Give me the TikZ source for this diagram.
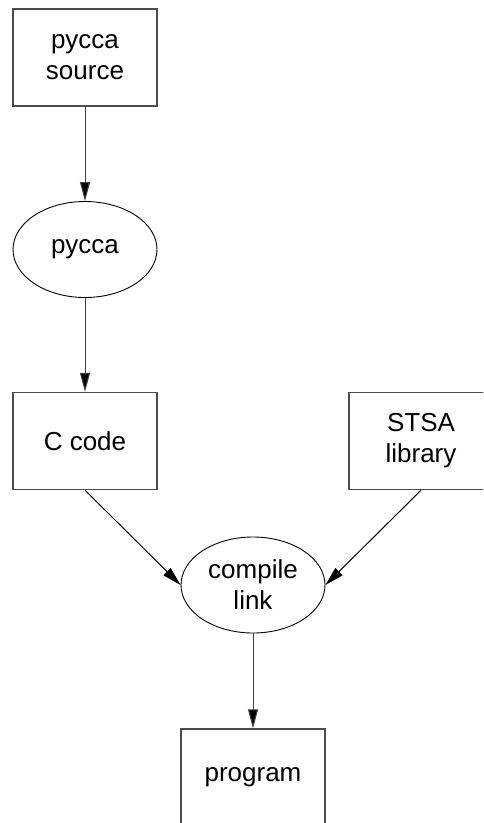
\documentclass[tikz,border=0pt]{standalone}
\usepackage{fontspec}
\setmainfont{Liberation Sans}
\usetikzlibrary{arrows.meta,shapes.geometric}

\begin{document}
\begin{tikzpicture}[x=1pt,y=-1pt,
  box/.style={draw=black!70,line width=1.4pt,minimum width=144pt,minimum height=97pt,align=center,inner sep=0pt},
  proc/.style={draw,ellipse,line width=0.9pt,minimum width=144pt,minimum height=96pt,align=center,inner sep=0pt},
  flow/.style={-{Triangle[length=19pt,width=10pt,fill=black]},line width=1pt},
  font=\fontsize{26}{31}\selectfont]
\useasboundingbox (0,0) rectangle (483,823);
\clip (0,0) rectangle (483,823);
% nodes
\node[box] (src) at (85,57.5) {pycca\\source};
\node[proc] (pycca) at (85,249.5) {pycca};
\node[box] (ccode) at (85,441) {C code};
\node[box] (stsa) at (421,441) {STSA\\library};
\node[proc] (build) at (253,585) {compile\\link};
\node[box] (prog) at (253,777.5) {program};
% edges
\draw[flow,draw=black!75] (src) -- (pycca);
\draw[flow,draw=black!75] (pycca) -- (ccode);
\draw[flow] (ccode.south) -- (build.west);
\draw[flow] (stsa.south) -- (build.east);
\draw[flow,draw=black!75] (build) -- (prog);
\end{tikzpicture}
\end{document}
